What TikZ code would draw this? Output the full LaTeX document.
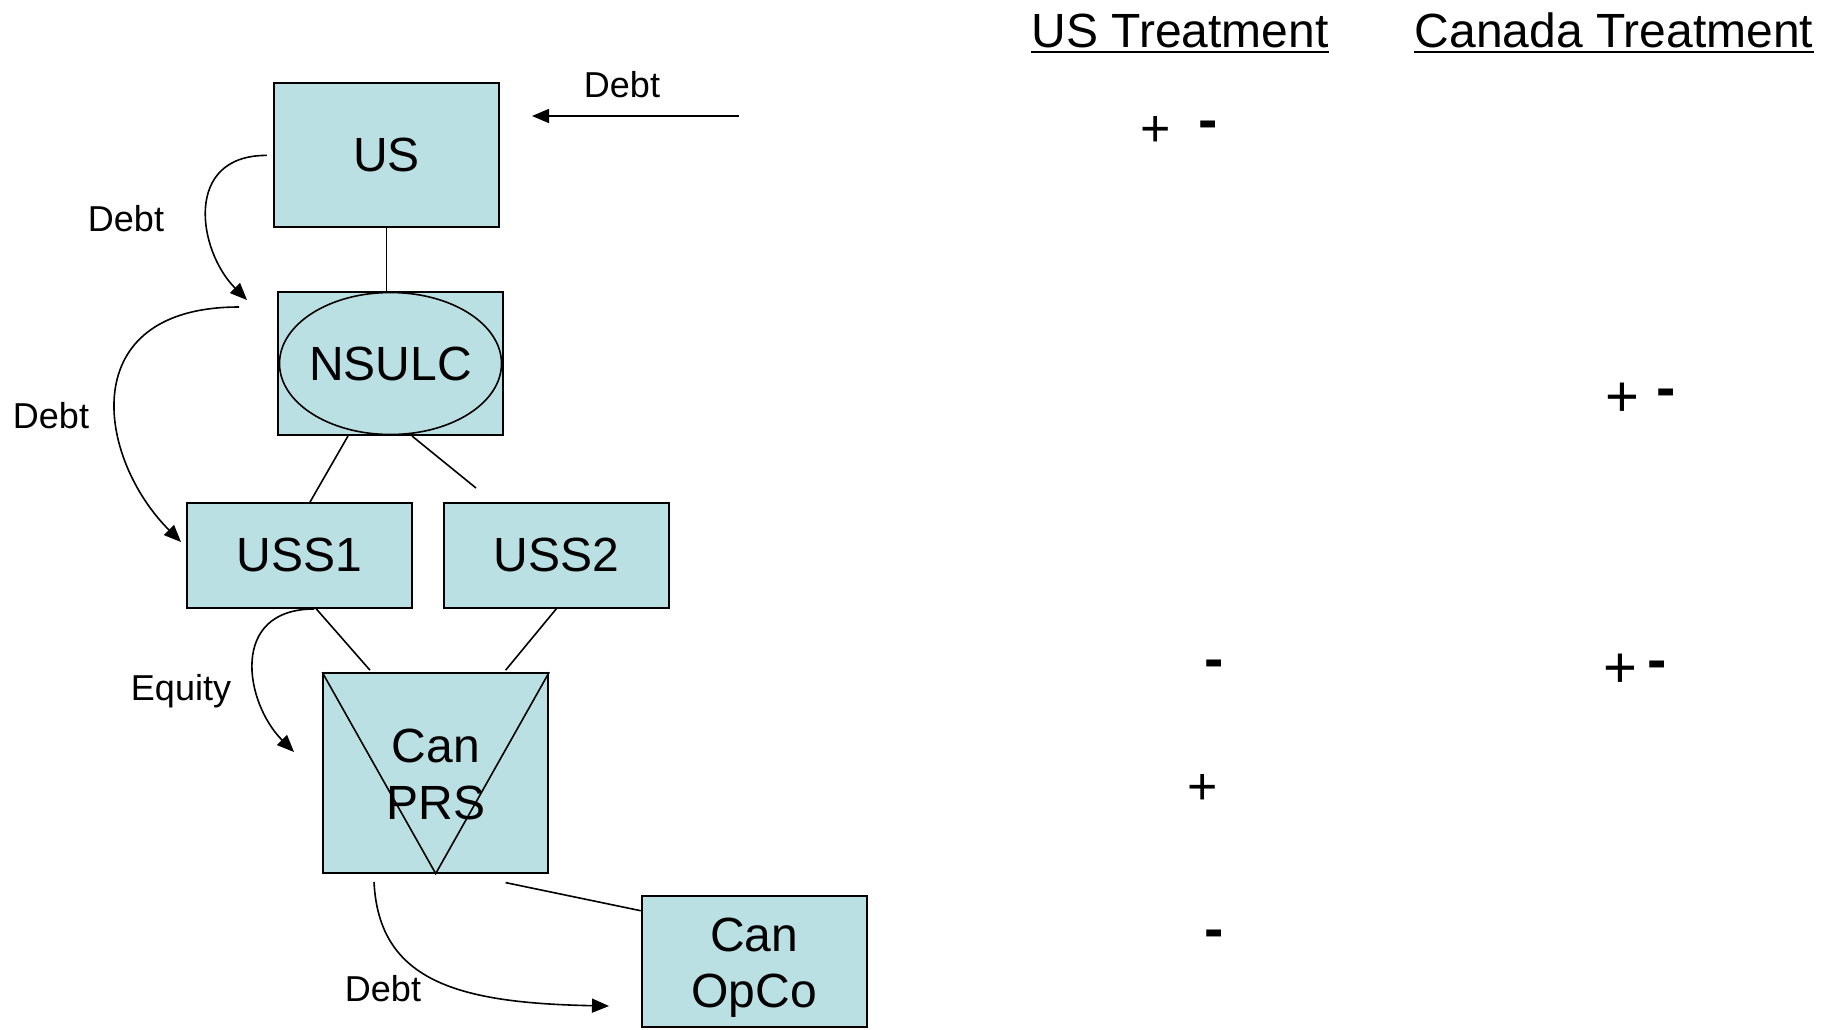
\documentclass[tikz,border=0pt]{standalone}
\usepackage{fontspec}
\setmainfont{Liberation Sans}
\usetikzlibrary{arrows.meta}
\definecolor{entityfill}{HTML}{BBE0E3}
% two-line entity label, nudged down by #1 without changing its size
\newcommand{\droplabel}[2]{\raisebox{-#1}[\height][\depth]{\begin{tabular}{@{}c@{}}#2\end{tabular}}}

\begin{document}
\begin{tikzpicture}[x=0.5pt,y=-0.5pt,
  entity/.style={draw, line width=1pt, fill=entityfill, inner sep=0pt,
    minimum width=112.5pt, align=center, font=\fontsize{24}{27}\selectfont},
  link/.style={line width=0.8pt},
  flow/.style={line width=0.8pt, -{Triangle[length=8.5pt,width=7pt]}},
  flowlabel/.style={anchor=base, inner sep=0pt, font=\fontsize{18}{20}\selectfont},
  heading/.style={anchor=base, inner sep=0pt, font=\fontsize{24}{27}\selectfont},
  usmark/.style={anchor=base, inner sep=0pt, font=\fontsize{26}{28}\selectfont},
  canmark/.style={anchor=base, inner sep=0pt, font=\fontsize{29}{31}\selectfont},
  minusmark/.style={anchor=base, inner sep=0pt, font=\fontsize{29}{31}\selectfont\bfseries}]

\useasboundingbox (0,0) rectangle (1839,1029);

% entities
\node[entity, minimum height=72pt]   (us)    at (386.4,155.4) {US};
\node[entity, minimum height=71.5pt] (nsulc) at (390.5,363.5) {NSULC};
\draw[line width=0.8pt] (nsulc.center) ellipse [x radius=55.5pt, y radius=35.5pt];
\node[entity, minimum height=52.25pt] (uss1) at (299.6,555.3) {USS1};
\node[entity, minimum height=52.25pt] (uss2) at (556.5,555.3) {USS2};
\node[entity, minimum height=99.7pt, font=\fontsize{24}{28.5}\selectfont] (prs) at (435.7,772.9) {\droplabel{3.5pt}{Can\\PRS}};
\draw[line width=0.8pt] (prs.north west) -- (prs.south) -- (prs.north east);
\node[entity, minimum height=65.5pt, font=\fontsize{24}{28}\selectfont] (opco) at (754.2,961.2) {\droplabel{3.5pt}{Can\\OpCo}};

% ownership links
\draw[link] (us.south) -- (us.south |- nsulc.north);
\draw[link] ([xshift=-21.25pt]nsulc.south) -- ([xshift=5.2pt]uss1.north);
\coordinate (nsulcstub) at (476,488);
\draw[link] ([xshift=10.75pt]nsulc.south) -- (nsulcstub);
\draw[link] ([xshift=8.2pt]uss1.south) -- ([xshift=-32.85pt,yshift=1pt]prs.north);
\draw[link] (uss2.south) -- ([xshift=34.95pt,yshift=1pt]prs.north);
\draw[link] ([xshift=34.95pt,yshift=-4.5pt]prs.south) -- ([yshift=-8pt]opco.north west);

% financing flows
\coordinate (extdebt) at (739,116);
\coordinate (extdebttip) at (532,116);
\draw[flow] (extdebt) -- (extdebttip);
\node[flowlabel] (lbldebt0) at (622,97) {Debt};

\coordinate (usdebttip) at (247,300);
\draw[flow] ([xshift=-3pt]us.west) .. controls (183,155) and (197.5,250.5) .. (usdebttip);
\node[flowlabel] (lbldebt1) at (126,231) {Debt};

\coordinate (nsdebtstart) at (239,307);
\coordinate (nsdebttip) at (181,542);
\draw[flow] (nsdebtstart) .. controls (74,307) and (96.2,457.2) .. (nsdebttip);
\node[flowlabel] (lbldebt2) at (51,428) {Debt};

\coordinate (eqstart) at (314,609);
\coordinate (eqtip) at (294,752);
\draw[flow] (eqstart) .. controls (229,609) and (244.5,702.5) .. (eqtip);
\node[flowlabel] (lblequity) at (181,700) {Equity};

\coordinate (prsdebtstart) at (374,882);
\coordinate (prsdebttip) at (609,1006);
\draw[flow] (prsdebtstart) .. controls (379,982) and (459,1003) .. (prsdebttip);
\node[flowlabel] (lbldebt3) at (383,1001) {Debt};

% treatment columns
\node[heading] (ush) at (1180,47) {US Treatment};
\draw[line width=1pt] ([yshift=-2.5pt]ush.base west) -- ([yshift=-2.5pt]ush.base east);
\node[heading] (canh) at (1614,47) {Canada Treatment};
\draw[line width=1pt] ([yshift=-2.5pt]canh.base west) -- ([yshift=-2.5pt]canh.base east);

\node[usmark]    (us1p) at (1156,146) {+};
\node[minusmark] (us1m) at (1208,139) {-};
\node[canmark]   (ca2p) at (1622,416) {+};
\node[minusmark] (ca2m) at (1666,407) {-};
\node[minusmark] (us3m) at (1214,678) {-};
\node[canmark]   (ca3p) at (1620,687) {+};
\node[minusmark] (ca3m) at (1657,679) {-};
\node[usmark]    (us4p) at (1203,804) {+};
\node[minusmark] (us5m) at (1214,948) {-};
\end{tikzpicture}
\end{document}
